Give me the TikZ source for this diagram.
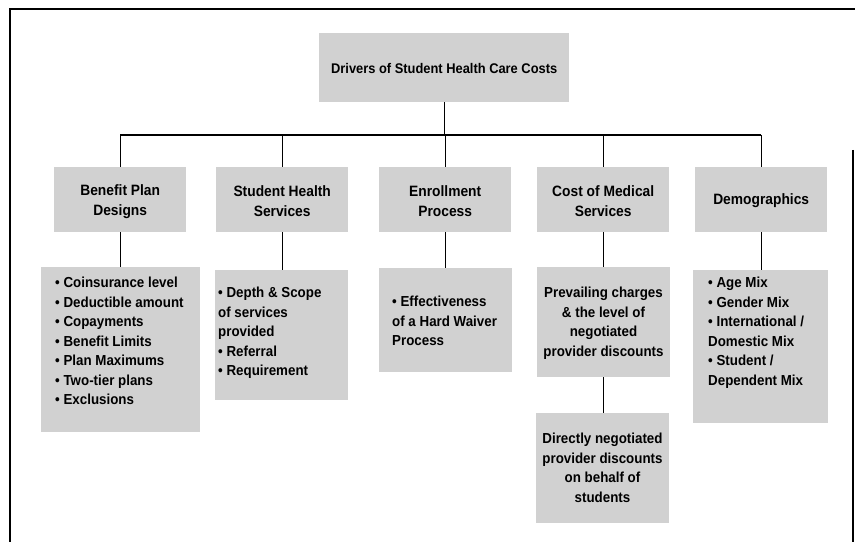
\documentclass[tikz,border=0pt]{standalone}
\usepackage{fontspec}
\setmainfont{Liberation Sans}[FakeStretch=0.92]
\begin{document}
\begin{tikzpicture}[x=1bp,y=-1bp,
  card/.style={fill=black!18, draw=none, inner sep=0, anchor=north west},
  hd/.style={font=\fontsize{15bp}{20bp}\selectfont\bfseries, align=center, inner sep=0},
  ttl/.style={font=\fontsize{14bp}{18bp}\selectfont\bfseries, inner sep=0},
  lst/.style={font=\fontsize{14.5bp}{19.5bp}\selectfont\bfseries, align=left, inner sep=0, anchor=north west},
  ctr/.style={font=\fontsize{14.5bp}{19.5bp}\selectfont\bfseries, align=center, inner sep=0, anchor=north},
  wire/.style={line width=1.4bp, black},
  frame/.style={line width=2bp, black}]
\useasboundingbox (0,0) rectangle (855,542);

% outer frame (open at the bottom)
\draw[frame] (10,542) -- (10,9) -- (855,9);
\draw[frame] (853,150) -- (853,542);

% root
\node[card, minimum width=250bp, minimum height=69bp] (root) at (319,33) {};
\node[ttl] (rootT) at ([yshift=-1bp]root.center) {Drivers of Student Health Care Costs};

% second level
\node[card, minimum width=132bp, minimum height=65bp] (ben) at (54,167) {};
\node[hd] (benT) at ([yshift=-2bp]ben.center) {Benefit Plan\\Designs};
\node[card, minimum width=132bp, minimum height=65bp] (shs) at (216,167) {};
\node[hd] (shsT) at ([yshift=-1bp]shs.center) {Student Health\\Services};
\node[card, minimum width=132bp, minimum height=65bp] (enr) at (379,167) {};
\node[hd] (enrT) at ([yshift=-1bp]enr.center) {Enrollment\\Process};
\node[card, minimum width=132bp, minimum height=65bp] (cms) at (537,167) {};
\node[hd] (cmsT) at ([yshift=-1bp]cms.center) {Cost of Medical\\Services};
\node[card, minimum width=132bp, minimum height=65bp] (dem) at (695,167) {};
\node[hd] (demT) at ([yshift=-1bp]dem.center) {Demographics};

% third level
\node[card, minimum width=159bp, minimum height=165bp] (benL) at (41,267) {};
\node[lst] (benLT) at (55,277) {• Coinsurance level\\• Deductible amount\\• Copayments\\• Benefit Limits\\• Plan Maximums\\• Two-tier plans\\• Exclusions};

\node[card, minimum width=133bp, minimum height=130bp] (shsL) at (215,270) {};
\node[lst] (shsLT) at (218,287) {• Depth \& Scope\\of services\\provided\\• Referral\\• Requirement};

\node[card, minimum width=133bp, minimum height=104bp] (enrL) at (379,268) {};
\node[lst] (enrLT) at (392,296) {• Effectiveness\\of a Hard Waiver\\Process};

\node[card, minimum width=133bp, minimum height=110bp] (cmsL) at (537,267) {};
\node[ctr] (cmsLT) at (603.5,287) {Prevailing charges\\\& the level of\\negotiated\\provider discounts};

\node[card, minimum width=133bp, minimum height=110bp] (cmsM) at (536,413) {};
\node[ctr] (cmsMT) at (602.5,433) {Directly negotiated\\provider discounts\\on behalf of\\students};

\node[card, minimum width=135bp, minimum height=153bp] (demL) at (693,270) {};
\node[lst] (demLT) at (708,277) {• Age Mix\\• Gender Mix\\• International /\\Domestic Mix\\• Student /\\Dependent Mix};

% connectors
\coordinate (busL) at (ben.north |- 0,135);
\coordinate (busR) at (dem.north |- 0,135);
\coordinate (busM) at (root.south |- 0,135);
\draw[wire] (root.south) -- (busM);
\draw[wire] (busL) -- (busR);
\foreach \n in {ben,shs,enr,cms,dem}
  \draw[wire] (\n.north |- busM) -- (\n.north);
\draw[wire] (ben.south) -- (ben.south |- benL.north);
\draw[wire] (shs.south) -- (shs.south |- shsL.north);
\draw[wire] (enr.south) -- (enr.south |- enrL.north);
\draw[wire] (cms.south) -- (cms.south |- cmsL.north);
\draw[wire] (cmsL.south) -- (cmsL.south |- cmsM.north);
\draw[wire] (dem.south) -- (dem.south |- demL.north);
\end{tikzpicture}
\end{document}
